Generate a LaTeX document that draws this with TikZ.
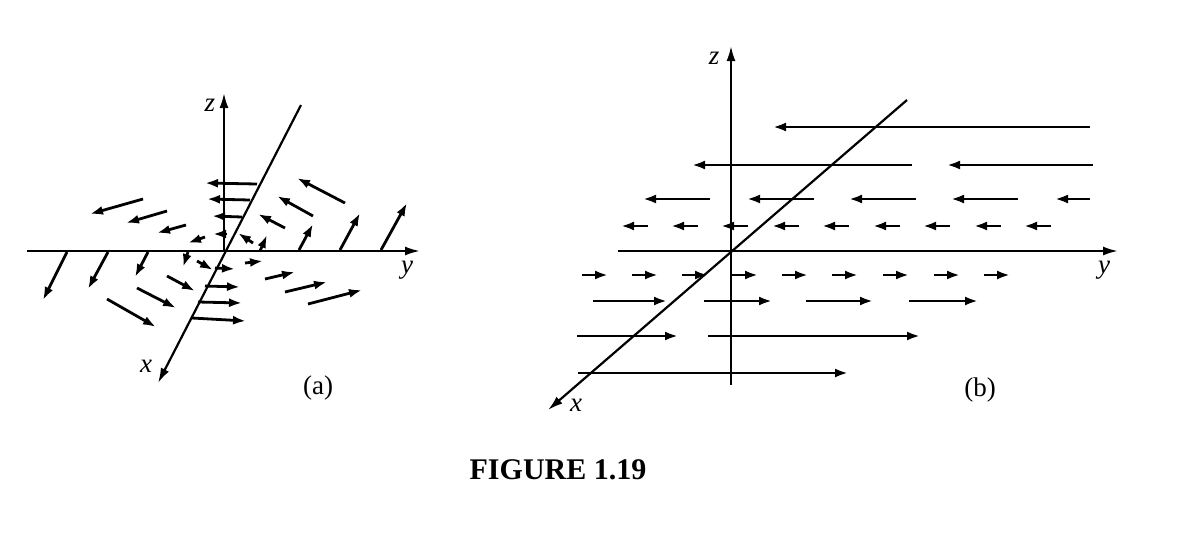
\documentclass[tikz,border=0pt]{standalone}
\usepackage{fontspec}
\setmainfont{Liberation Serif}
\usetikzlibrary{arrows.meta}
\begin{document}
\begin{tikzpicture}[x=1pt,y=-1pt,
  vec/.style={line width=2.8pt,-{Latex[length=13pt,width=9pt]}},
  axarr/.style={line width=2.2pt,-{Latex[length=15pt,width=9pt]}},
  lbl/.style={font=\fontsize{27}{29}\selectfont\itshape,inner sep=0pt},
  captext/.style={font=\fontsize{27}{29}\selectfont,inner sep=0pt}]
\useasboundingbox (0,0) rectangle (1180,539);
% ---- panel (a)
\coordinate (oa) at (224,251);
\coordinate (za) at (224,93);
\coordinate (ya0) at (27,251);
\coordinate (ya) at (420,251);
\coordinate (xa0) at (301,105);
\coordinate (xa) at (158,383);
\draw[axarr] (oa) -- (za);
\draw[axarr] (ya0) -- (ya);
\draw[axarr] (xa0) -- (xa);
\node[lbl] (zla) at (210,105) {z};
\node[lbl] (yla) at (407,270) {y};
\node[lbl] (xla) at (146,366) {x};
\node[captext] (capa) at (318,388) {(a)};
\foreach \a/\b/\c/\d in {
 143/199/90/214, 167/211/126/223, 186/225/157/233, 205/237/188/243,
 257/184/205/183, 250/200/207/199, 242/217/212/216, 227/234/213/234,
 345/203/297/178, 313/216/277/196, 285/228/258/214, 253/243/238/233,
 260/251/267/235, 299/250/313/224, 340/250/360/213, 381/250/407/203,
 67/252/43/300, 108/252/88/289, 148/252/135/277, 188/252/183/267,
 107/299/156/327, 137/288/176/308, 167/276/195/291, 197/261/213/270,
 215/268/235/269, 205/286/240/287, 198/302/242/303, 192/318/246/321,
 245/263/263/261, 265/279/295/272, 285/292/327/282, 308/304/362/290}
 \draw[vec] (\a,\b) -- (\c,\d);
% ---- panel (b)
\coordinate (ob) at (731,251);
\coordinate (zb) at (731,46);
\coordinate (zb0) at (731,385);
\coordinate (yb0) at (618,251);
\coordinate (yb) at (1118,251);
\coordinate (xb0) at (907,100);
\coordinate (xb) at (548,410);
\draw[axarr] (zb0) -- (zb);
\draw[axarr] (yb0) -- (yb);
\draw[axarr] (xb0) -- (xb);
\node[lbl] (zlb) at (714,58) {z};
\node[lbl] (ylb) at (1104,270) {y};
\node[lbl] (xlb) at (576,405) {x};
\node[captext] (capb) at (980,390) {(b)};
\foreach \a/\c/\y in {1090/773/127, 912/692/165, 1093/947/165,
 710/643/199, 814/747/199, 916/849/199, 1018/951/199, 1090/1055/199,
 593/667/301, 704/772/301, 806/873/301, 909/978/301,
 577/678/336, 708/920/336, 578/848/373}
 \draw[vec] (\a,\y) -- (\c,\y);
\foreach \t in {648,698,748,799,849,900,950,1001,1051}
 \draw[vec] (\t,226) -- (\t-27,226);
\foreach \t in {582,632,682,732,782,832,883,934,984}
 \draw[vec] (\t,275) -- (\t+26,275);
\node[font=\fontsize{30}{32}\selectfont\bfseries,inner sep=0pt] (fig) at (558,470) {FIGURE 1.19};
\end{tikzpicture}
\end{document}
